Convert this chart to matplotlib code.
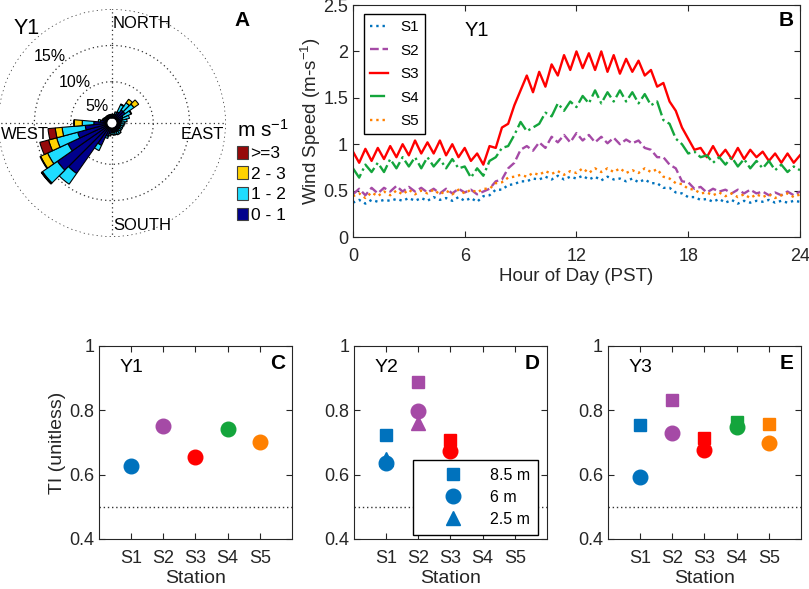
import numpy as np
import matplotlib
matplotlib.use("Agg")
import matplotlib.pyplot as plt
from matplotlib.lines import Line2D
from matplotlib.patches import Patch

plt.rcParams["font.family"] = ["Liberation Sans", "DejaVu Sans"]
plt.rcParams["mathtext.default"] = "regular"

# ---------- data: wind rose, Y1 (percent of time per 10 deg sector) ----------
rose_dirs = list(range(0, 360, 10))
rose_0_1 = [0.4, 0.4, 0.6, 1.0, 1.5, 1.5, 1.0, 0.8, 0.6, 0.5,
            0.5, 0.5, 0.5, 0.5, 0.6, 0.6, 0.6, 0.6, 0.6, 0.8,
            1.2, 2.7, 7.8, 8.5, 6.0, 4.2, 3.0, 1.8, 0.9, 0.6,
            0.5, 0.4, 0.4, 0.4, 0.4, 0.4]
rose_1_2 = [0.1, 0.1, 0.3, 1.1, 1.2, 1.5, 1.2, 1.0, 0.8, 0.6,
            0.5, 0.4, 0.4, 0.4, 0.5, 0.5, 0.4, 0.4, 0.3, 0.3,
            0.3, 0.8, 1.8, 2.5, 3.1, 3.0, 3.2, 1.6, 0.3, 0.1,
            0.1, 0.1, 0.1, 0.1, 0.1, 0.1]
rose_2_3 = [0, 0, 0, 0.1, 0.6, 0.8, 0.1, 0, 0, 0,
            0, 0, 0, 0, 0, 0, 0, 0, 0, 0,
            0, 0, 0, 0.15, 1.05, 1.15, 0.95, 1.1, 0, 0,
            0, 0, 0, 0, 0, 0]
rose_3_up = [0, 0, 0, 0, 0, 0, 0, 0, 0, 0,
             0, 0, 0, 0, 0, 0, 0, 0, 0, 0,
             0, 0, 0, 0.05, 0.1, 1.25, 1.0, 0.05, 0, 0,
             0, 0, 0, 0, 0, 0]
rose_classes = ["0 - 1", "1 - 2", "2 - 3", ">=3"]
rose_colors = ["#00008C", "#1EDCFF", "#FFD200", "#960A0A"]

# ---------- data: mean diurnal wind speed, Y1 (20 min steps) ----------
hours = np.linspace(0, 24, 73)
ws_s1 = [0.37, 0.40, 0.36, 0.40, 0.38, 0.40, 0.39, 0.41, 0.39, 0.42, 0.39, 0.42,
         0.39, 0.43, 0.40, 0.42, 0.39, 0.43, 0.39, 0.42, 0.38, 0.44, 0.45, 0.51,
         0.51, 0.56, 0.57, 0.60, 0.60, 0.63, 0.62, 0.65, 0.62, 0.66, 0.62, 0.65,
         0.63, 0.66, 0.62, 0.65, 0.61, 0.65, 0.62, 0.63, 0.60, 0.63, 0.59, 0.62,
         0.58, 0.58, 0.53, 0.53, 0.48, 0.47, 0.43, 0.43, 0.40, 0.41, 0.38, 0.41,
         0.37, 0.40, 0.36, 0.39, 0.37, 0.39, 0.38, 0.40, 0.37, 0.39, 0.37, 0.39,
         0.38]
ws_s2 = [0.46, 0.52, 0.45, 0.53, 0.47, 0.53, 0.49, 0.55, 0.49, 0.54, 0.49, 0.53,
         0.48, 0.52, 0.47, 0.52, 0.47, 0.52, 0.48, 0.51, 0.46, 0.49, 0.52, 0.60,
         0.62, 0.74, 0.80, 0.94, 0.98, 0.93, 1.02, 0.96, 1.08, 1.02, 1.10, 1.02,
         1.12, 1.04, 1.10, 1.02, 1.08, 1.01, 1.07, 1.00, 1.05, 1.01, 1.04, 0.96,
         0.94, 0.86, 0.86, 0.78, 0.74, 0.60, 0.59, 0.52, 0.54, 0.48, 0.52, 0.49,
         0.51, 0.47, 0.51, 0.47, 0.51, 0.47, 0.49, 0.45, 0.48, 0.45, 0.49, 0.45,
         0.49]
ws_s3 = [0.92, 0.80, 0.95, 0.82, 0.96, 0.84, 0.98, 0.86, 1.00, 0.88, 1.04, 0.90,
         1.02, 0.90, 1.04, 0.88, 1.00, 0.86, 0.96, 0.82, 0.90, 0.78, 0.98, 0.96,
         1.18, 1.22, 1.42, 1.58, 1.74, 1.56, 1.78, 1.62, 1.86, 1.74, 1.96, 1.80,
         2.00, 1.82, 1.98, 1.80, 2.00, 1.78, 1.96, 1.76, 1.92, 1.78, 1.90, 1.74,
         1.80, 1.62, 1.66, 1.46, 1.36, 1.18, 1.06, 0.94, 0.96, 0.86, 0.98, 0.86,
         0.94, 0.84, 0.96, 0.84, 0.94, 0.86, 0.92, 0.82, 0.90, 0.80, 0.90, 0.80,
         0.88]
ws_s4 = [0.74, 0.64, 0.78, 0.70, 0.80, 0.70, 0.84, 0.74, 0.86, 0.76, 0.86, 0.74,
         0.86, 0.76, 0.84, 0.74, 0.84, 0.74, 0.76, 0.64, 0.74, 0.66, 0.82, 0.86,
         0.96, 0.98, 1.10, 1.24, 1.14, 1.18, 1.22, 1.34, 1.30, 1.44, 1.36, 1.46,
         1.40, 1.52, 1.44, 1.58, 1.44, 1.56, 1.46, 1.58, 1.46, 1.56, 1.44, 1.54,
         1.42, 1.46, 1.26, 1.22, 1.06, 1.00, 0.90, 0.92, 0.86, 0.88, 0.80, 0.86,
         0.78, 0.86, 0.76, 0.84, 0.74, 0.82, 0.74, 0.82, 0.72, 0.78, 0.70, 0.76,
         0.72]
ws_s5 = [0.44, 0.47, 0.42, 0.48, 0.44, 0.49, 0.45, 0.50, 0.46, 0.51, 0.46, 0.50,
         0.47, 0.51, 0.46, 0.50, 0.46, 0.51, 0.47, 0.51, 0.48, 0.52, 0.52, 0.58,
         0.59, 0.64, 0.65, 0.67, 0.65, 0.69, 0.67, 0.71, 0.68, 0.71, 0.67, 0.71,
         0.69, 0.74, 0.69, 0.74, 0.70, 0.74, 0.70, 0.74, 0.69, 0.72, 0.69, 0.74,
         0.70, 0.73, 0.65, 0.63, 0.58, 0.57, 0.52, 0.51, 0.47, 0.48, 0.45, 0.48,
         0.44, 0.47, 0.43, 0.46, 0.42, 0.46, 0.43, 0.46, 0.42, 0.45, 0.47, 0.43,
         0.46]

stations = ["S1", "S2", "S3", "S4", "S5"]
station_colors = ["#0072BD", "#A54AA6", "#FF0000", "#14A53C", "#FF8000"]
station_styles = [":", "--", "-", "-.", ":"]

# ---------- data: turbulence intensity per year and height ----------
nan = np.nan
ti_y1_6m = [0.628, 0.750, 0.656, 0.741, 0.702]
ti_y2_85m = [0.723, 0.887, 0.708, nan, nan]
ti_y2_6m = [0.636, 0.798, 0.673, nan, nan]
ti_y2_25m = [0.648, 0.760, nan, nan, nan]
ti_y3_85m = [0.754, 0.832, 0.713, 0.765, 0.757]
ti_y3_6m = [0.594, 0.728, 0.677, 0.747, 0.697]

TXT = "#262626"
fig = plt.figure(figsize=(8.09, 5.89), dpi=100)

# ---------- A: wind rose ----------
axA = fig.add_axes([-0.0025, 0.5976, 0.2818, 0.3871], projection="polar")
axA.set_theta_zero_location("N")
axA.set_theta_direction(-1)
theta = np.deg2rad(rose_dirs)
bottom = np.zeros(len(rose_dirs))
for vals, col in zip([rose_0_1, rose_1_2, rose_2_3, rose_3_up], rose_colors):
    vals = np.array(vals)
    lw = [0.8 if v > 0 else 0 for v in vals]
    axA.bar(theta, vals, width=np.deg2rad(10), bottom=bottom, color=col,
            edgecolor="black", linewidth=lw, zorder=3)
    bottom = bottom + vals
axA.set_rorigin(-0.7)
axA.set_ylim(0, 15.02)
axA.set_yticks([5, 10, 15])
axA.set_yticklabels([])
axA.set_xticks(np.deg2rad([0, 90, 180, 270]))
axA.set_xticklabels([])
axA.grid(True, color="#333333", linestyle=(0, (1, 2.5)), linewidth=0.9)
axA.spines["polar"].set_visible(False)
for pct, r in zip(["5%", "10%", "15%"], [2.4, 6.9, 11.8]):
    axA.text(np.deg2rad(317), r, pct, ha="center", va="center", fontsize=11.5, zorder=4)
axA.text(np.deg2rad(17), 13.6, "NORTH", ha="center", va="center", fontsize=12)
axA.text(np.deg2rad(163.4), 14.1, "SOUTH", ha="center", va="center", fontsize=12)
axA.text(np.deg2rad(97.4), 11.8, "EAST", ha="center", va="center", fontsize=12)
axA.text(np.deg2rad(262.4), 11.45, "WEST", ha="center", va="center", fontsize=12)
fig.text(27 / 809, 1 - 28 / 589, "Y1", ha="center", va="center", fontsize=15.5)
fig.text(242 / 809, 1 - 20 / 589, "A", ha="center", va="center", fontsize=15, fontweight="bold")

handles = [Patch(facecolor=c, edgecolor="#404040", linewidth=0.8) for c in rose_colors][::-1]
fig.legend(handles, rose_classes[::-1], loc="upper left", bbox_to_anchor=(228 / 809, 1 - 110 / 589),
           frameon=False, title="m s$^{-1}$", title_fontsize=15, fontsize=12.5,
           handlelength=0.65, handleheight=0.75, handletextpad=0.15, labelspacing=0.3,
           borderpad=0, alignment="left")

# ---------- B: diurnal wind speed ----------
axB = fig.add_axes([0.4363, 0.5976, 0.5525, 0.3939])
for vals, st, col, ls in zip([ws_s1, ws_s2, ws_s3, ws_s4, ws_s5], stations,
                             station_colors, station_styles):
    axB.plot(hours, vals, color=col, linestyle=ls, linewidth=1.7, label=st)
axB.set_xlim(0, 24)
axB.set_ylim(0, 2.5)
axB.set_xticks([0, 6, 12, 18, 24])
axB.set_yticks([0, 0.5, 1, 1.5, 2, 2.5])
axB.set_yticklabels(["0", "0.5", "1", "1.5", "2", "2.5"])
axB.set_xlabel("Hour of Day (PST)", fontsize=13.5, color=TXT, labelpad=2)
axB.set_ylabel("Wind Speed (m-s$^{-1}$)", fontsize=13.5, color=TXT, labelpad=0)
axB.text(0.277, 0.892, "Y1", transform=axB.transAxes, ha="center", va="center", fontsize=14.5)
axB.text(0.969, 0.935, "B", transform=axB.transAxes, ha="center", va="center",
         fontsize=15, fontweight="bold")
axB.legend(loc="upper left", bbox_to_anchor=(0.0246, 0.961), borderaxespad=0,
           fancybox=False, edgecolor="black", framealpha=1, fontsize=11,
           handlelength=1.2, handletextpad=0.8, labelspacing=0.62)

# ---------- C, D, E: turbulence intensity ----------
xpos = np.arange(1, 6)
panels = [
    (0.1224, "Y1", "C", [], [ti_y1_6m], []),
    (0.4376, "Y2", "D", [ti_y2_85m], [ti_y2_6m], [ti_y2_25m]),
    (0.7515, "Y3", "E", [ti_y3_85m], [ti_y3_6m], []),
]
axes_ti = []
for left, year, letter, sq, ci, tri in panels:
    ax = fig.add_axes([left, 0.0849, 0.2385, 0.3277])
    axes_ti.append(ax)
    ax.axhline(0.5, color="#333333", linestyle=(0, (1, 2)), linewidth=1)
    for series, mk, ms in [(sq, "s", 8.5), (tri, "^", 10.5), (ci, "o", 10.5)]:
        for vals in series:
            for x, v, col in zip(xpos, vals, station_colors):
                if not np.isnan(v):
                    ax.plot(x, v, marker=mk, markersize=ms, color=col,
                            markeredgecolor=col, linestyle="none")
    ax.set_xlim(0, 6)
    ax.set_ylim(0.4, 1)
    ax.set_xticks(xpos)
    ax.set_xticklabels(stations)
    ax.set_yticks([0.4, 0.6, 0.8, 1.0])
    ax.set_yticklabels(["0.4", "0.6", "0.8", "1"])
    ax.set_xlabel("Station", fontsize=14, color=TXT, labelpad=2)
    ax.text(0.168, 0.89, year, transform=ax.transAxes, ha="center", va="center", fontsize=14)
    ax.text(0.925, 0.91, letter, transform=ax.transAxes, ha="center", va="center",
            fontsize=15, fontweight="bold")
axes_ti[0].set_ylabel("TI (unitless)", fontsize=14, color=TXT, labelpad=2)

leg_handles = [Line2D([], [], marker=m, markersize=s, color="#0072BD", linestyle="none")
               for m, s in [("s", 8.5), ("o", 10.5), ("^", 10.5)]]
axes_ti[1].legend(leg_handles, ["8.5 m", "6 m", "2.5 m"], loc="lower right",
                  bbox_to_anchor=(0.953, 0.021), borderaxespad=0, fancybox=False,
                  edgecolor="black", framealpha=1, fontsize=11.5, handlelength=4.0,
                  handletextpad=0.3, labelspacing=0.45, borderpad=0.5)

for ax in [axB] + axes_ti:
    ax.tick_params(direction="in", top=True, right=True, length=4, width=0.8,
                   labelsize=13, colors=TXT)
    ax.tick_params(axis="x", pad=8)
    for sp in ax.spines.values():
        sp.set_color(TXT)
        sp.set_linewidth(0.8)

fig.savefig("out.png", dpi=100)
